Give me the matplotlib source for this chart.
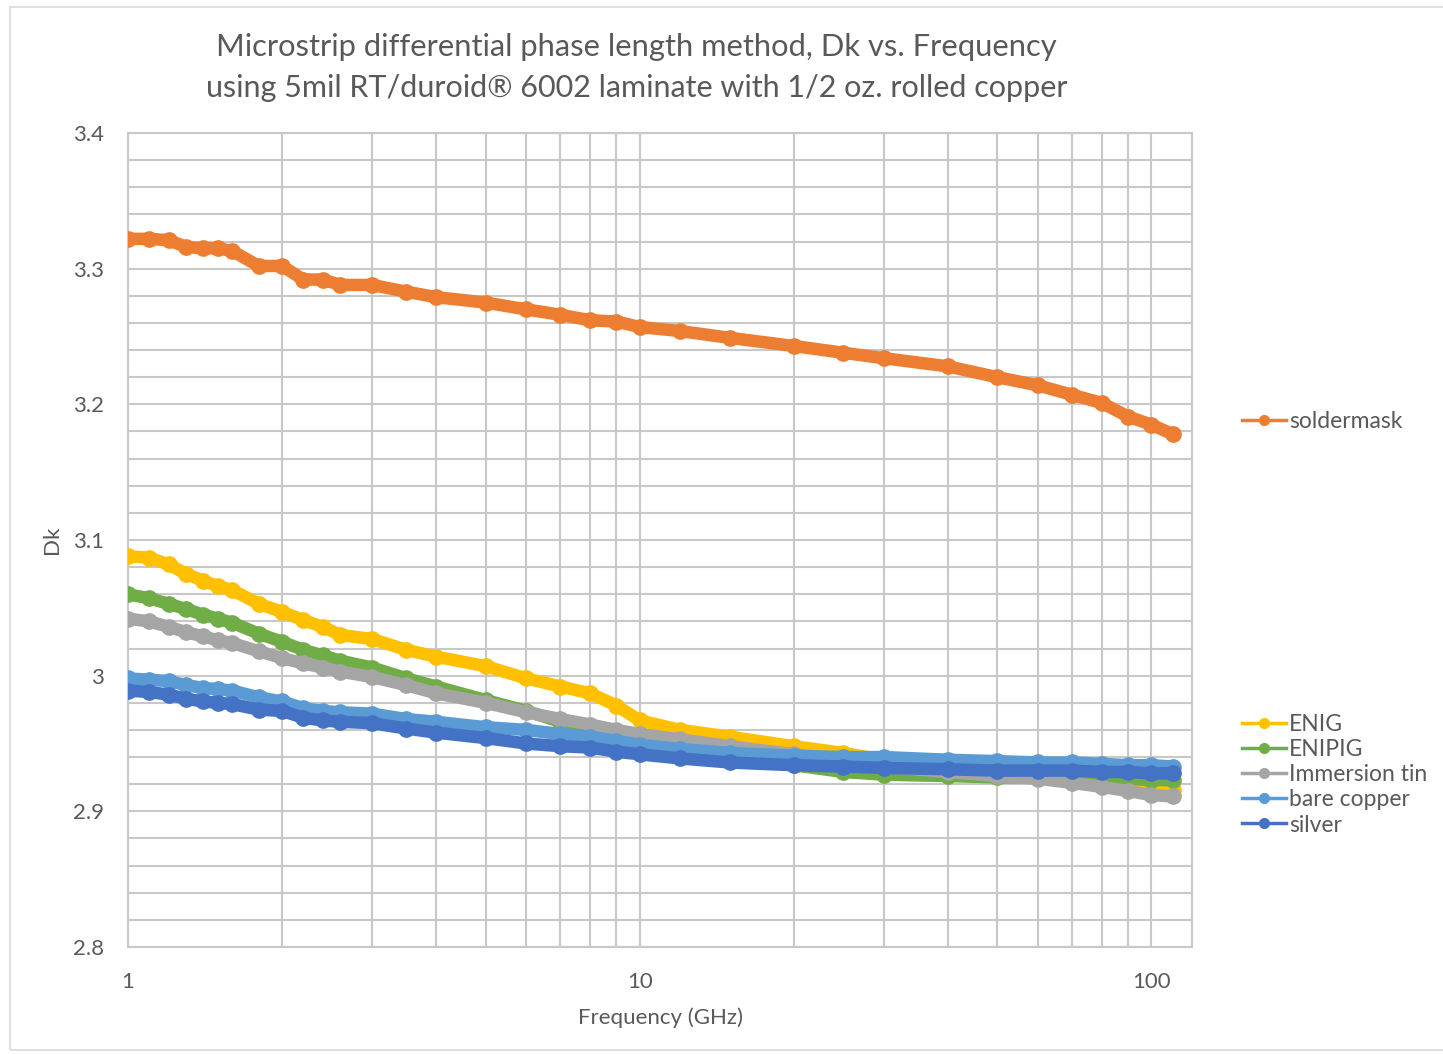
import numpy as np
import matplotlib.pyplot as plt
from matplotlib.lines import Line2D
from matplotlib.patches import Rectangle
from matplotlib.ticker import FixedLocator, NullFormatter

## {{{                          --     data     --
freq_ghz = [1, 1.1, 1.2, 1.3, 1.4, 1.5, 1.6, 1.8, 2, 2.2, 2.4, 2.6, 3, 3.5, 4, 5, 6, 7, 8, 9,
            10, 12, 15, 20, 25, 30, 40, 50, 60, 70, 80, 90, 100, 110]

dk_soldermask = [3.322, 3.322, 3.321, 3.316, 3.315, 3.315, 3.313, 3.302, 3.302, 3.292, 3.292,
                 3.288, 3.288, 3.283, 3.279, 3.275, 3.270, 3.266, 3.262, 3.261, 3.257, 3.254,
                 3.249, 3.243, 3.238, 3.234, 3.228, 3.220, 3.214, 3.207, 3.201, 3.191, 3.185, 3.178]
dk_enig = [3.088, 3.087, 3.082, 3.075, 3.070, 3.066, 3.063, 3.053, 3.047, 3.041, 3.036, 3.030,
           3.027, 3.019, 3.014, 3.007, 2.998, 2.992, 2.987, 2.978, 2.967, 2.960, 2.955, 2.948,
           2.943, 2.938, 2.936, 2.934, 2.930, 2.923, 2.919, 2.917, 2.916, 2.916]
dk_enipig = [3.060, 3.057, 3.053, 3.049, 3.045, 3.042, 3.039, 3.031, 3.025, 3.019, 3.015, 3.011,
             3.006, 2.998, 2.992, 2.982, 2.974, 2.966, 2.961, 2.955, 2.950, 2.946, 2.940, 2.934,
             2.929, 2.927, 2.926, 2.925, 2.925, 2.924, 2.924, 2.924, 2.923, 2.923]
dk_imm_tin = [3.042, 3.040, 3.036, 3.032, 3.029, 3.026, 3.024, 3.018, 3.013, 3.009, 3.006, 3.003,
              2.999, 2.993, 2.987, 2.980, 2.973, 2.968, 2.964, 2.960, 2.957, 2.953, 2.948, 2.942,
              2.937, 2.933, 2.929, 2.926, 2.924, 2.921, 2.918, 2.915, 2.912, 2.911]
dk_bare_cu = [2.998, 2.997, 2.996, 2.993, 2.991, 2.990, 2.989, 2.984, 2.981, 2.976, 2.974, 2.973,
              2.972, 2.968, 2.966, 2.962, 2.960, 2.957, 2.955, 2.952, 2.949, 2.946, 2.943, 2.941,
              2.940, 2.940, 2.938, 2.937, 2.936, 2.936, 2.935, 2.934, 2.934, 2.933]
dk_silver = [2.989, 2.988, 2.986, 2.983, 2.981, 2.980, 2.979, 2.975, 2.974, 2.969, 2.967, 2.966,
             2.965, 2.961, 2.958, 2.954, 2.950, 2.948, 2.947, 2.944, 2.942, 2.939, 2.936, 2.934,
             2.933, 2.932, 2.931, 2.930, 2.930, 2.930, 2.929, 2.929, 2.928, 2.928]

series = [
    ('soldermask', dk_soldermask, '#ED7D31'),
    ('ENIG', dk_enig, '#FFC000'),
    ('ENIPIG', dk_enipig, '#70AD47'),
    ('Immersion tin', dk_imm_tin, '#A5A5A5'),
    ('bare copper', dk_bare_cu, '#5B9BD5'),
    ('silver', dk_silver, '#4472C4'),
]
##────────────────────────────────────────────────────────────────────────────}}}

## {{{                          --     plot     --
plt.rcParams['font.family'] = ['Lato', 'DejaVu Sans']
TXT = '#595959'
GRID = '#c8c8c8'

fig = plt.figure(figsize=(14.43, 10.54), dpi=100)
ax = fig.add_axes([128 / 1443, 1 - 947 / 1054, (1192 - 128) / 1443, (947 - 133) / 1054])

for name, dk, col in series:
    ax.plot(freq_ghz, dk, color=col, lw=9, marker='o', ms=11, mec=col, mfc=col,
            solid_capstyle='round', solid_joinstyle='round', zorder=3)

ax.set_xscale('log')
ax.set_xlim(1, 120)
ax.set_ylim(2.8, 3.4)

ax.xaxis.set_major_locator(FixedLocator([1, 10, 100]))
ax.xaxis.set_minor_locator(FixedLocator([m * d for d in (1, 10) for m in range(2, 10)]))
ax.xaxis.set_minor_formatter(NullFormatter())
ax.set_xticklabels(['1', '10', '100'])
yt = np.round(np.arange(2.8, 3.41, 0.1), 1)
ax.set_yticks(yt)
ax.set_yticklabels([f'{v:g}' for v in yt])
ax.yaxis.set_minor_locator(FixedLocator(np.round(np.arange(2.8, 3.4, 0.02), 2)))

ax.grid(which='both', color=GRID, lw=1.5, zorder=0)
ax.set_axisbelow(True)
ax.tick_params(which='both', length=0, colors=TXT, labelsize=16)
ax.tick_params(axis='y', pad=17)
ax.tick_params(axis='x', pad=18)
for sp in ax.spines.values():
    sp.set_color(GRID)
    sp.set_linewidth(1.5)

ax.set_xlabel('Frequency (GHz)', color=TXT, fontsize=16, labelpad=11)
ax.set_ylabel('Dk', color=TXT, fontsize=16, labelpad=8)

fig.text(0.441, 1 - 47 / 1054, 'Microstrip differential phase length method, Dk vs. Frequency',
         ha='center', va='center', color=TXT, fontsize=22.2)
fig.text(0.441, 1 - 88 / 1054, 'using 5mil RT/duroid® 6002 laminate with 1/2 oz. rolled copper',
         ha='center', va='center', color=TXT, fontsize=22)

# legend: soldermask entry sits apart from the other five
def handle(col):
    return Line2D([], [], color=col, lw=2.5, marker='o', ms=7)

leg_kw = dict(frameon=False, fontsize=16.5, labelcolor=TXT, handlelength=1.9,
              handletextpad=0.15, labelspacing=0.18, borderpad=0, borderaxespad=0)
fig.legend([handle(series[0][2])], [series[0][0]], loc='center left',
           bbox_to_anchor=(1242 / 1443, 1 - 422 / 1054), **leg_kw)
fig.legend([handle(c) for _, _, c in series[1:]], [n for n, _, _ in series[1:]],
           loc='upper left', bbox_to_anchor=(1242 / 1443, 1 - 714 / 1054), **leg_kw)

# chart area outline
fig.patches.append(Rectangle((10 / 1443, 4 / 1054), 1.0, 1 - 11 / 1054,
                             transform=fig.transFigure, fill=False, ec='#d9d9d9', lw=1.2))

fig.savefig('out.png', dpi=100, facecolor='white')
##────────────────────────────────────────────────────────────────────────────}}}
